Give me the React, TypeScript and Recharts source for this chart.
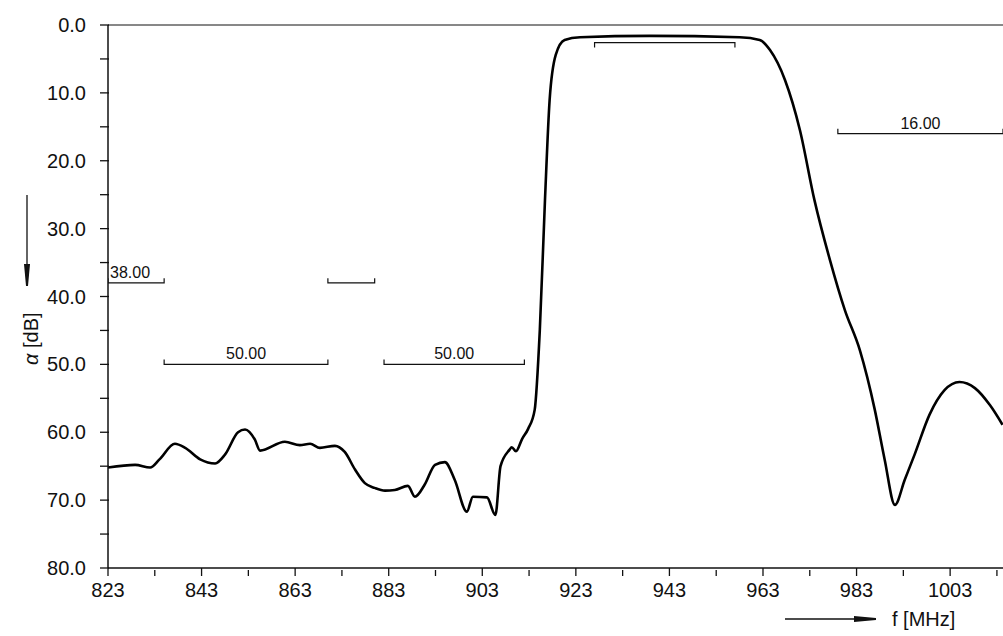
import { LineChart, Line, XAxis, YAxis, ReferenceLine } from 'recharts';

// frequency response
const freqs = [
  823, 828.8, 832, 834, 837.3, 839.5, 842.7, 845.9, 848, 850.8, 852.3, 854.4, 855.5, 860.8, 864, 866.2, 868.3,
  871.5, 873.6, 875.8, 877.9, 880, 882.2, 884.3, 887.1, 888.6, 890.7, 892.9, 895, 897.1, 899.7, 901, 904,
  905.8, 906.9, 908.8, 909.3, 910.2, 911.5, 912.8, 914.2, 915.3, 916.4, 917.4, 918.7, 920.6, 923.9, 938.8,
  958, 962.3, 964.5, 967.7, 970.9, 974, 977.3, 980.5, 983.7, 986.9, 989, 991.2, 993.3, 995.4, 998.6, 1001.8,
  1005, 1008.3, 1011.5, 1014.2,
];
const atten = [
  65.2, 64.8, 65.2, 64, 61.7, 62.3, 64, 64.6, 63.3, 60, 59.6, 61.1, 62.7, 61.4, 61.9, 61.7, 62.3,
  62, 62.9, 65.5, 67.5, 68.2, 68.6, 68.5, 67.9, 69.5, 67.7, 64.8, 64.4, 67, 71.7, 69.5, 69.6,
  72.2, 65, 62.6, 62.2, 62.8, 61, 59.5, 56.7, 44.9, 25.8, 11, 4.4, 2.2, 1.8, 1.6,
  1.8, 2.2, 3.7, 8.1, 15.5, 25.8, 34.6, 42, 47.9, 56.7, 64, 70.7, 67, 63.3, 57.4, 53.8,
  52.6, 53.5, 56, 58.9,
];

// spec limits: [from, to, level, label, tick direction]
const limitFrom = [823, 835, 870, 882, 927, 979];
const limitTo = [835, 870, 880, 912, 957, 1014.3];
const limitLevel = [38, 50, 38, 50, 2.6, 16];
const limitLabel = ['38.00', '50.00', '', '50.00', '', '16.00'];
const limitTickUp = [true, true, true, true, false, true];

const xMajor = [823, 843, 863, 883, 903, 923, 943, 963, 983, 1003];
const xMinor = [833, 853, 873, 893, 913, 933, 953, 973, 993, 1013];
const yMajor = [0, 10, 20, 30, 40, 50, 60, 70, 80];
const yMinor = [5, 15, 25, 35, 45, 55, 65, 75];

const data = freqs.map((f, i) => ({ f, a: atten[i] }));
const font = '"Liberation Sans", sans-serif';
const ink = '#111';

const XTick = ({ x, y, payload }: any) => {
  const major = xMajor.includes(payload.value);
  return (
    <g>
      <line x1={x} x2={x} y1={y} y2={y - (major ? 8 : 6)} stroke={ink} strokeWidth={1.3} />
      {major && (
        <text x={x} y={y + 21} textAnchor="middle" fontSize={20} fontFamily={font} fill={ink}>
          {payload.value}
        </text>
      )}
    </g>
  );
};

const YTick = ({ x, y, payload }: any) => {
  const major = yMajor.includes(payload.value);
  return (
    <g>
      <line x1={x} x2={x + 9} y1={y} y2={y} stroke={ink} strokeWidth={1.3} />
      {major && (
        <text x={x - 14} y={y + 7} textAnchor="end" fontSize={20} fontFamily={font} fill={ink}>
          {payload.value.toFixed(1)}
        </text>
      )}
    </g>
  );
};

export default function App() {
  return (
    <div style={{ position: 'absolute', left: 0, top: 0, width: 1003, height: 636, background: '#fff' }}>
      <LineChart width={1003} height={636} data={data} margin={{ top: 25, right: 0, bottom: 0, left: 0 }}>
        <XAxis
          type="number"
          dataKey="f"
          domain={[823, 1014.3]}
          ticks={[...xMajor, ...xMinor].sort((p, q) => p - q)}
          interval={0}
          tick={<XTick />}
          tickLine={false}
          axisLine={{ stroke: ink, strokeWidth: 1.5 }}
          height={68}
          allowDataOverflow
        />
        <YAxis
          type="number"
          domain={[0, 80]}
          reversed
          ticks={[...yMajor, ...yMinor].sort((p, q) => p - q)}
          interval={0}
          tick={<YTick />}
          tickLine={false}
          axisLine={{ stroke: ink, strokeWidth: 1.5 }}
          width={108}
        />
        <ReferenceLine y={0} stroke={ink} strokeWidth={1} />
        {limitFrom.map((a, i) => {
          const b = limitTo[i];
          const v = limitLevel[i];
          const d = limitTickUp[i] ? -0.7 : 0.7;
          return (
            <Line
              key={'lim' + i}
              data={[
                { f: a, a: v + d },
                { f: a, a: v },
                { f: b, a: v },
                { f: b, a: v + d },
              ]}
              dataKey="a"
              type="linear"
              stroke={ink}
              strokeWidth={1.2}
              dot={false}
              isAnimationActive={false}
            />
          );
        })}
        {limitFrom.map((a, i) =>
          limitLabel[i] ? (
            <ReferenceLine
              key={'lab' + i}
              segment={[
                { x: a, y: limitLevel[i] },
                { x: limitTo[i], y: limitLevel[i] },
              ]}
              stroke="none"
              label={({ viewBox }: any) => (
                <text
                  x={i === 0 ? viewBox.x + 2 : viewBox.x + viewBox.width / 2}
                  y={viewBox.y - 5}
                  textAnchor={i === 0 ? 'start' : 'middle'}
                  fontSize={16}
                  fontFamily={font}
                  fill={ink}
                >
                  {limitLabel[i]}
                </text>
              )}
            />
          ) : null
        )}
        <Line dataKey="a" type="monotone" stroke="#000" strokeWidth={2.6} dot={false} isAnimationActive={false} />
      </LineChart>
      <svg width={1003} height={636} style={{ position: 'absolute', left: 0, top: 0, pointerEvents: 'none' }}>
        <line x1={27} y1={195} x2={27} y2={268} stroke={ink} strokeWidth={1.3} />
        <polygon points="24,264 30,264 28,286 26,286" fill={ink} />
        <text transform="translate(38,365) rotate(-90)" fontSize={20} fontFamily={font} fill={ink}>
          <tspan fontStyle="italic">α</tspan> [dB]
        </text>
        <line x1={785} y1={619} x2={858} y2={619} stroke={ink} strokeWidth={1.3} />
        <polygon points="854,616 854,622 876,620 876,618" fill={ink} />
        <text x={892} y={626} fontSize={20} fontFamily={font} fill={ink}>
          f [MHz]
        </text>
      </svg>
    </div>
  );
}
